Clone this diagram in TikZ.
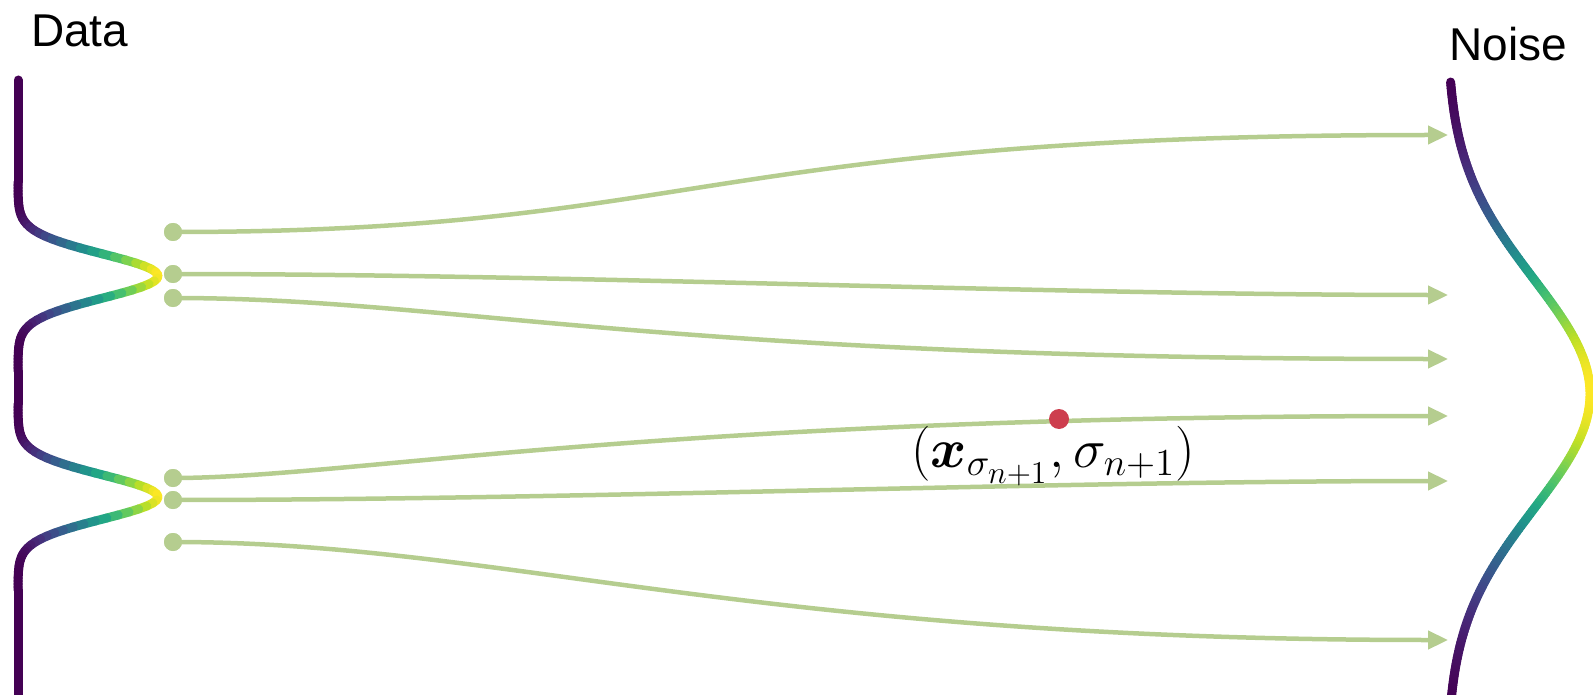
\documentclass[tikz,border=0pt]{standalone}
\usepackage{amsmath}
\usepackage{fontspec}
\setmainfont{Liberation Sans}
\usetikzlibrary{arrows.meta}
\definecolor{traj}{RGB}{181,205,143}
\definecolor{pt}{RGB}{205,62,78}
\definecolor{v0}{HTML}{440154}
\definecolor{v1}{HTML}{482475}
\definecolor{v2}{HTML}{414487}
\definecolor{v3}{HTML}{355F8D}
\definecolor{v4}{HTML}{2A788E}
\definecolor{v5}{HTML}{21918C}
\definecolor{v6}{HTML}{22A884}
\definecolor{v7}{HTML}{44BF70}
\definecolor{v8}{HTML}{7AD151}
\definecolor{v9}{HTML}{BDDF26}
\definecolor{v10}{HTML}{FDE725}
\newcommand\myvircol[1]{%
  \pgfmathsetmacro\vs{min(9.999,max(0,#1*10))}%
  \pgfmathtruncatemacro\vi{floor(\vs)}%
  \pgfmathtruncatemacro\vj{\vi+1}%
  \pgfmathtruncatemacro\vf{(\vs-\vi)*100}%
  \colorlet{cur}{v\vj!\vf!v\vi}%
}
\tikzset{
  dens/.style={line width=9pt, line cap=round, draw=cur},
  dot/.style={circle, fill=traj, inner sep=0pt, minimum size=18pt},
  trajarrow/.style={draw=traj, line width=4.5pt, -{Triangle[length=20pt,width=18pt]}},
  ttl/.style={font=\fontsize{46}{50}\selectfont, inner sep=0pt},
}
\begin{document}
\begin{tikzpicture}[x=1pt,y=-1pt]
\useasboundingbox (0,0) rectangle (1593,695);
% left density (two gaussians)
\foreach \i in {0,...,204} {
  \pgfmathsetmacro\ya{80+3*\i}
  \pgfmathsetmacro\yb{\ya+3}
  \pgfmathsetmacro\ym{\ya+1.5}
  \pgfmathsetmacro\ga{exp(-min(9,0.5*((\ya-276)/22)^2))+exp(-min(9,0.5*((\ya-497)/22)^2))}
  \pgfmathsetmacro\gb{exp(-min(9,0.5*((\yb-276)/22)^2))+exp(-min(9,0.5*((\yb-497)/22)^2))}
  \pgfmathsetmacro\gm{exp(-min(9,0.5*((\ym-276)/22)^2))+exp(-min(9,0.5*((\ym-497)/22)^2))}
  \myvircol{\gm}
  \draw[dens] (18+140*\ga,\ya) -- (18+140*\gb,\yb);
}
% right density (one gaussian)
\foreach \i in {0,...,204} {
  \pgfmathsetmacro\ya{82+3*\i}
  \pgfmathsetmacro\yb{\ya+3}
  \pgfmathsetmacro\ym{\ya+1.5}
  \pgfmathsetmacro\ga{exp(-min(9,0.5*((\ya-394)/115)^2))}
  \pgfmathsetmacro\gb{exp(-min(9,0.5*((\yb-394)/115)^2))}
  \pgfmathsetmacro\gm{exp(-min(9,0.5*((\ym-394)/115)^2))}
  \pgfmathsetmacro\tm{(\gm-0.025)/0.975}
  \myvircol{\tm}
  \draw[dens] (1447+143*\ga,\ya) -- (1447+143*\gb,\yb);
}
\node[ttl, anchor=base west] (data) at (31,47) {Data};
\node[ttl, anchor=base west] (noise) at (1449,61) {Noise};
% start points
\node[dot] (d1) at (173,232) {};
\node[dot] (d2) at (173,274) {};
\node[dot] (d3) at (173,298) {};
\node[dot] (d4) at (173,478) {};
\node[dot] (d5) at (173,500) {};
\node[dot] (d6) at (173,542) {};
% end points
\coordinate (e1) at (1448,135);
\coordinate (e2) at (1448,295);
\coordinate (e3) at (1448,359);
\coordinate (e4) at (1448,416);
\coordinate (e5) at (1448,481);
\coordinate (e6) at (1448,640);
\draw[trajarrow] (d1.center) .. controls +(527,0) and +(-748,0) .. (e1);
\draw[trajarrow] (d2.center) .. controls +(400,0) and +(-400,0) .. (e2);
\draw[trajarrow] (d3.center) .. controls +(277,0) and +(-798,0) .. (e3);
\draw[trajarrow] (d4.center) .. controls +(177,0) and +(-798,0) .. (e4);
\draw[trajarrow] (d5.center) .. controls +(400,0) and +(-400,0) .. (e5);
\draw[trajarrow] (d6.center) .. controls +(327,0) and +(-698,0) .. (e6);
\foreach \k in {1,...,6} \node[dot] at (d\k) {};
\node[circle, fill=pt, inner sep=0pt, minimum size=20pt] (x) at (1059,419) {};
\node[inner sep=0pt, font=\huge, scale=2.65] (lbl) at (1053,456) {$(\boldsymbol{x}_{\sigma_{n+1}},\sigma_{n+1})$};
\end{tikzpicture}
\end{document}
